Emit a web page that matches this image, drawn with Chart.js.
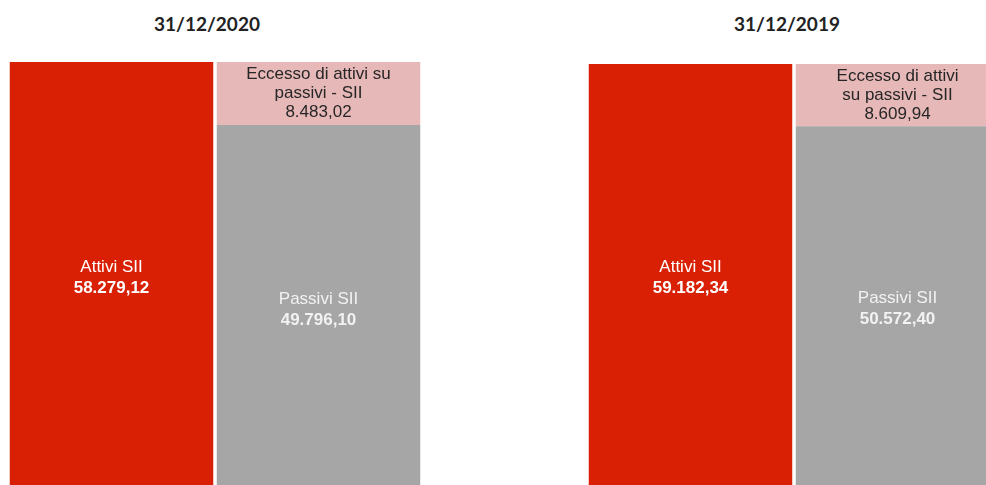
<!DOCTYPE html>
<html>
<head>
<meta charset="utf-8">
<script src="https://cdn.jsdelivr.net/npm/chart.js"></script>
<style>
  html, body { margin: 0; padding: 0; background: #fff; }
  body { width: 986px; height: 485px; overflow: hidden; position: relative; }
  .title {
    position: absolute; top: 12px; width: 300px; text-align: center;
    font: bold 19px Lato, "Open Sans", sans-serif; color: #222;
  }
  .panel { position: absolute; }
</style>
</head>
<body>
<div class="title" style="left:57px">31/12/2020</div>
<div class="title" style="left:637px">31/12/2019</div>
<div class="panel" style="left:8px; top:62px"><canvas id="chart2020" width="414" height="432"></canvas></div>
<div class="panel" style="left:587px; top:64px"><canvas id="chart2019" width="414" height="428"></canvas></div>

<script>
// values in migliaia di euro
const categories = ['Attivi', 'Passivi'];
const attivi = [58279.12, 59182.34];     // 2020, 2019
const passivi = [49796.10, 50572.40];
const eccesso = [8483.02, 8609.94];

const attiviLabel = ['Attivi SII'];
const passiviLabel = ['Passivi SII'];
const eccessoLabel2020 = ['Eccesso di attivi su', 'passivi - SII'];
const eccessoLabel2019 = ['Eccesso di attivi', 'su passivi - SII'];

const RED = '#D91F04';
const GREY = '#A6A6A6';
const PINK = '#E6B8B7';

function fmt(v) {
    const parts = v.toFixed(2).split('.');
    parts[0] = parts[0].replace(/\B(?=(\d{3})+(?!\d))/g, '.');
    return parts[0] + ',' + parts[1];
}

// draws the text lines in the middle of each bar
const barText = {
    id: 'barText',
    afterDatasetsDraw(chart, args, opts) {
        const ctx = chart.ctx;
        ctx.save();
        ctx.textAlign = 'center';
        ctx.textBaseline = 'middle';
        opts.items.forEach(item => {
            const bar = chart.getDatasetMeta(item.dataset).data[item.index];
            const top = Math.min(bar.y, bar.base);
            const bottom = Math.max(bar.y, bar.base);
            const lines = item.lines.map(t => ({ t, bold: false })).concat([{ t: item.value, bold: item.boldValue }]);
            const lh = item.lineHeight;
            let y = (top + bottom) / 2 - (lines.length - 1) * lh / 2;
            ctx.fillStyle = item.color;
            lines.forEach(l => {
                ctx.font = (l.bold ? 'bold ' : '') + '17px "Liberation Sans", Arial, sans-serif';
                ctx.fillText(l.t, bar.x, y);
                y += lh;
            });
        });
        ctx.restore();
    }
};

function makeChart(id, i, eccessoLabel) {
    new Chart(document.getElementById(id), {
        type: 'bar',
        data: {
            labels: categories,
            datasets: [
                { label: 'Attivi SII', data: [attivi[i], null], backgroundColor: RED },
                { label: 'Passivi SII', data: [null, passivi[i]], backgroundColor: GREY },
                { label: 'Eccesso di attivi su passivi - SII', data: [null, eccesso[i]], backgroundColor: PINK }
            ]
        },
        options: {
            responsive: false,
            animation: false,
            barPercentage: 0.983,
            categoryPercentage: 1,
            layout: { padding: 0 },
            scales: {
                x: { stacked: true, display: false },
                y: { stacked: true, display: false, min: 0, max: attivi[i] }
            },
            plugins: {
                legend: { display: false },
                tooltip: { enabled: false },
                barText: {
                    items: [
                        { dataset: 0, index: 0, lines: attiviLabel, value: fmt(attivi[i]), boldValue: true, color: '#FFFFFF', lineHeight: 21 },
                        { dataset: 1, index: 1, lines: passiviLabel, value: fmt(passivi[i]), boldValue: true, color: '#F2F2F2', lineHeight: 21 },
                        { dataset: 2, index: 1, lines: eccessoLabel, value: fmt(eccesso[i]), boldValue: false, color: '#262626', lineHeight: 19 }
                    ]
                }
            }
        },
        plugins: [barText]
    });
}

makeChart('chart2020', 0, eccessoLabel2020);
makeChart('chart2019', 1, eccessoLabel2019);
</script>
</body>
</html>
